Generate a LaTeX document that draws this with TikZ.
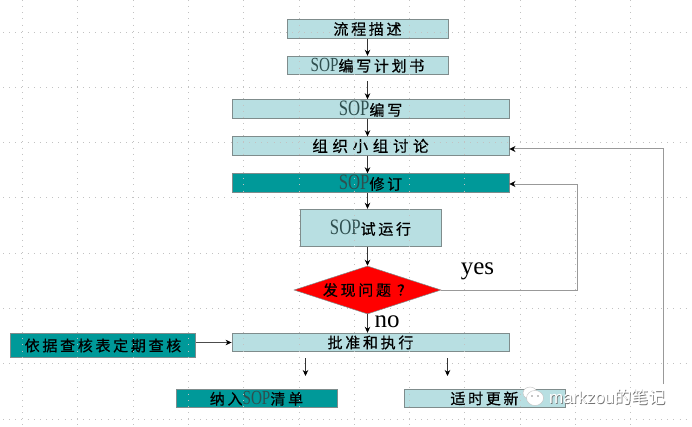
\documentclass[tikz,border=0pt]{standalone}
\usepackage{fontspec}
\setmainfont{Liberation Serif}
\newfontfamily\cjk[LetterSpace=18,FakeBold=0.6]{Noto Sans CJK SC}
\newfontfamily\cjkwide[LetterSpace=30,FakeBold=0.6]{Noto Sans CJK SC}
\newfontfamily\cjkw{Noto Sans CJK SC}
\newfontfamily\wmfont{Liberation Sans}
\usetikzlibrary{arrows.meta,shapes.geometric,calc}
\definecolor{lightbox}{HTML}{B8DFE2}
\definecolor{tealbox}{HTML}{009999}
\definecolor{edgegrey}{HTML}{7F8C8C}
\definecolor{linegrey}{HTML}{999999}
\definecolor{sopgrey}{HTML}{2F4F4F}
\newcommand{\cj}[1]{{\fontsize{15}{15}\selectfont\cjk #1}}
\newcommand{\cjw}[1]{{\fontsize{15.5}{15.5}\selectfont\cjkwide #1}}
\newcommand{\sop}[1][20]{\scalebox{.76}[1]{\fontsize{#1}{#1}\selectfont\color{sopgrey}SOP}}
\tikzset{
  x=1pt,y=-1pt,
  boxbase/.style={rectangle,draw=edgegrey,line width=.9pt,inner sep=0pt,text=black},
  lightb/.style={boxbase,fill=lightbox},
  tealb/.style={boxbase,fill=tealbox},
  flow/.style={draw=black!80,line width=.7pt,-{Stealth[length=6pt,width=5.5pt,black]}},
  back/.style={draw=linegrey,line width=1pt,-{Stealth[length=6pt,width=6pt,black]}},
  griddots/.style={draw=black!24,line width=.9pt,dash pattern=on 1pt off 5.15pt},
  biglabel/.style={inner sep=0pt,font=\fontsize{25}{25}\selectfont,text=black},
}
\begin{document}
\begin{tikzpicture}
\useasboundingbox[fill=white] (0,0) rectangle (692,427);
% boxes
\node[lightb,minimum width=161pt,minimum height=18.5pt] (desc) at (367.5,29) {\cj{流程描述}};
\node[lightb,minimum width=161pt,minimum height=18.5pt] (plan) at (367.5,65.5) {\sop\cj{编写计划书}};
\node[lightb,minimum width=277pt,minimum height=18.5pt] (write) at (370.5,109) {\sop[22]\cj{编写}};
\node[lightb,minimum width=277pt,minimum height=18.5pt] (meet) at (370.5,146) {\cjw{组织小组讨论}};
\node[tealb,minimum width=277pt,minimum height=18.5pt] (revise) at (370.5,183) {\sop[22]\cj{修订}};
\node[lightb,minimum width=141pt,minimum height=37.5pt] (trial) at (370.5,228) {\sop[22]\cj{试运行}};
\node[lightb,minimum width=277pt,minimum height=18.5pt] (exec) at (370.5,342.5) {\cj{批准和执行}};
\node[tealb,minimum width=185pt,minimum height=24.5pt] (audit) at (103,345.5) {\cj{依据查核表定期查核}};
\node[tealb,minimum width=161pt,minimum height=18.5pt] (list) at (256.5,398.5) {\cj{纳入}\sop\cj{清单}};
\node[lightb,minimum width=161pt,minimum height=18.5pt] (update) at (484.5,398.5) {\cj{适时更新}};
% grid
\foreach \i in {0,...,11}{
  \draw[griddots] ({22.5+55.3*\i},0) -- ({22.5+55.3*\i},427);
}
\foreach \i in {0,...,7}{
  \draw[griddots] (3,{32+55.3*\i}) -- (690,{32+55.3*\i});
}
% decision
\node[diamond,aspect=3.06,fill=red,draw=edgegrey,line width=.5pt,inner sep=0pt,minimum width=147pt,minimum height=48pt] (check) at (367.5,290) {\cj{发现问题 ？}};
% free ends
\coordinate (yesturn) at (577,290);
\coordinate (yesup) at (577,184);
\coordinate (loopstart) at (663,384);
\coordinate (loopup) at (663,149);
\coordinate (afrom) at (305.5,358);
\coordinate (ato) at (305.5,376);
\coordinate (bfrom) at (447.5,358);
\coordinate (bto) at (447.5,376);
\coordinate (auditout) at (195.5,342.5);
% connectors
\draw[flow] (desc.south -| 367.5,0) -- (plan.north);
\draw[flow,shorten <=6pt] (plan.south) -- (plan.south |- write.north);
\draw[flow] (write.south -| 367.5,0) -- (meet.north -| 367.5,0);
\draw[flow] (meet.south -| 367.5,0) -- (revise.north -| 367.5,0);
\draw[flow] (revise.south -| 367.5,0) -- (trial.north -| 367.5,0);
\draw[flow] (trial.south -| 367.5,0) -- (check.north);
\draw[flow] (check.south) -- (exec.north -| 367.5,0);
\draw[draw=black!70,line width=.6pt,-{Stealth[length=6pt,width=5.5pt,black]}] (auditout) -- (exec.west);
\draw[flow] (afrom) -- (ato);
\draw[flow] (bfrom) -- (bto);
\draw[back,line width=.8pt] (check.east) -- (yesturn) -- (yesup) -- (revise.east |- yesup);
\draw[back] (loopstart) -- (loopup) -- (meet.east |- loopup);
% labels
\node[biglabel] (yeslabel) at (477.5,271) {yes};
\node[biglabel] (nolabel) at (387,322) {no};
% watermark
\node[inner sep=0pt,anchor=west,text=black!55,font=\wmfont\fontsize{17}{17}\selectfont] (wmshadow) at (549.7,397.7) {markzou{\cjkw 的笔记}};
\node[inner sep=0pt,anchor=west,text=white,font=\wmfont\fontsize{17}{17}\selectfont] (wmtext) at (549,397) {markzou{\cjkw 的笔记}};
\fill[white,draw=black!25,line width=.4pt] (530,393) ellipse (7pt and 6pt);
\fill[white,draw=black!25,line width=.4pt] (535,398) ellipse (8.5pt and 7.5pt);
\fill[black!45] (532,396) circle (.8pt) (538,396) circle (.8pt);
\end{tikzpicture}
\end{document}
